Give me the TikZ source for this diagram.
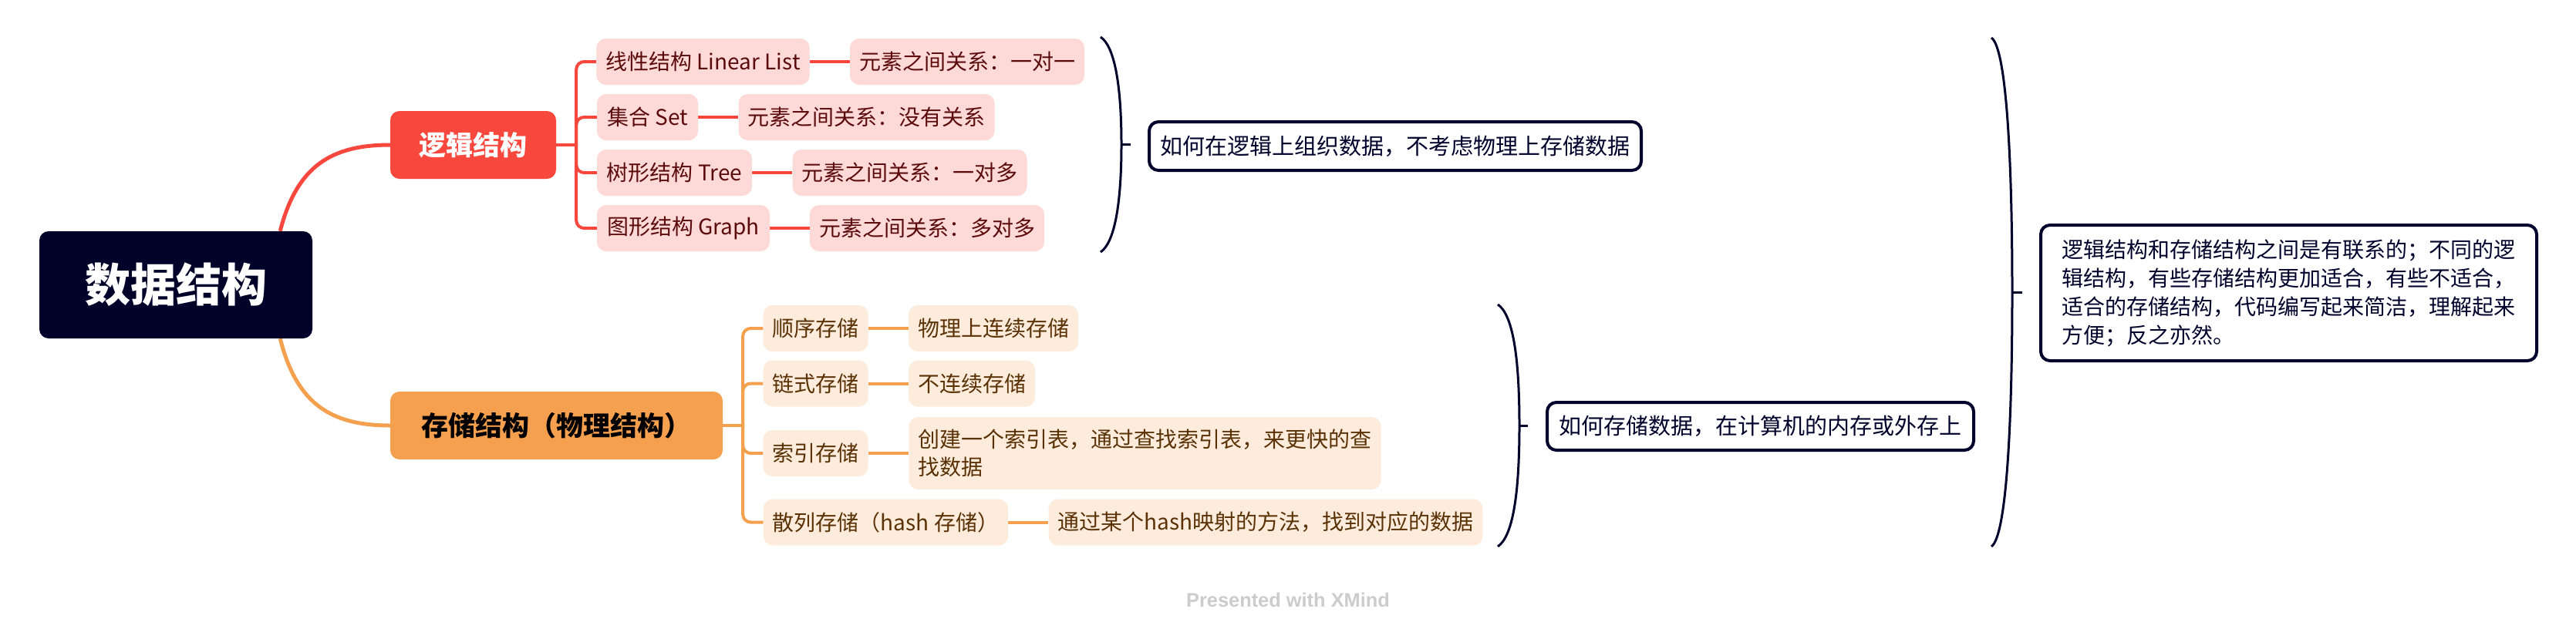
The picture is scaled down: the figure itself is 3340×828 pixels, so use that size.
\documentclass[tikz,border=0pt]{standalone}
\usepackage{fontspec}
\setmainfont{Noto Sans CJK SC}
\newfontfamily\wmfont{Liberation Sans}
\usetikzlibrary{calc,backgrounds}
\definecolor{rootbg}{HTML}{000229}
\definecolor{redmain}{HTML}{F8473D}
\definecolor{redlight}{HTML}{FDD9D8}
\definecolor{redtext}{HTML}{5C0B0B}
\definecolor{orgmain}{HTML}{F5A04E}
\definecolor{orglight}{HTML}{FDEBDC}
\definecolor{orgtext}{HTML}{5A3206}
\definecolor{navy}{HTML}{00022B}
\definecolor{wmgray}{HTML}{CCCCCC}
\tikzset{
  rootbox/.style={fill=rootbg, text=white, rounded corners=12pt, inner sep=0pt,
    minimum width=354pt, minimum height=139pt, font=\fontsize{59}{70}\selectfont\bfseries},
  mainbox/.style={rounded corners=12pt, inner sep=0pt, minimum height=88pt,
    font=\fontsize{35}{42}\selectfont\bfseries},
  redbox/.style={fill=redlight, text=redtext, rounded corners=12pt, inner xsep=12pt, inner ysep=0pt,
    minimum height=60pt, font=\fontsize{28}{36}\selectfont},
  orgbox/.style={fill=orglight, text=orgtext, rounded corners=12pt, inner xsep=12pt, inner ysep=0pt,
    minimum height=60pt, font=\fontsize{28}{36}\selectfont},
  sumbox/.style={draw=navy, line width=4pt, fill=white, text=navy, rounded corners=12pt,
    inner sep=0pt, font=\fontsize{29}{36}\selectfont},
  redline/.style={draw=redmain, line width=4pt},
  orgline/.style={draw=orgmain, line width=4pt},
  braceline/.style={draw=navy, line width=3pt},
}
\begin{document}
\begin{tikzpicture}[x=1pt,y=-1pt]
\useasboundingbox (0,0) rectangle (3340,828);
% root and main branches
\node[rootbox] (root) at (228,369.5) {数据结构};
\node[mainbox, fill=redmain, text=white, minimum width=215pt] (lg) at (613.5,188) {逻辑结构};
\node[mainbox, fill=orgmain, text=black, minimum width=431pt] (st) at (721.5,552) {存储结构（物理结构）};
% logical children
\node[redbox, minimum width=275pt] (c1) at (911.5,80) {线性结构 Linear List};
\node[redbox, minimum width=131pt] (c2) at (839.5,152) {集合 Set};
\node[redbox, minimum width=201pt] (c3) at (874.5,224) {树形结构 Tree};
\node[redbox, minimum width=224pt] (c4) at (886,296) {图形结构 Graph};
\node[redbox, minimum width=302pt] (g1) at (1254,80) {元素之间关系：一对一};
\node[redbox, minimum width=331pt] (g2) at (1123.5,152) {元素之间关系：没有关系};
\node[redbox, minimum width=303pt] (g3) at (1179.5,224) {元素之间关系：一对多};
\node[redbox, minimum width=302pt] (g4) at (1202,296) {元素之间关系：多对多};
% storage children
\node[orgbox, minimum width=135pt] (o1) at (1057.5,426) {顺序存储};
\node[orgbox, minimum width=135pt] (o2) at (1057.5,497.5) {链式存储};
\node[orgbox, minimum width=135pt] (o3) at (1057.5,588) {索引存储};
\node[orgbox, minimum width=317pt] (o4) at (1148.5,677.5) {散列存储（hash 存储）};
\node[orgbox, minimum width=218pt] (p1) at (1288,426) {物理上连续存储};
\node[orgbox, minimum width=162pt] (p2) at (1260,497.5) {不连续存储};
\node[orgbox, minimum width=611pt, minimum height=94pt, align=left] (p3) at (1484.5,588) {创建一个索引表，通过查找索引表，来更快的查\\找数据};
\node[orgbox, minimum width=560pt] (p4) at (1641,677.5) {通过某个hash映射的方法，找到对应的数据};
% summaries
\node[sumbox, minimum width=638pt, minimum height=63pt] (s1) at (1809,189.5) {如何在逻辑上组织数据，不考虑物理上存储数据};
\node[sumbox, minimum width=553pt, minimum height=62pt] (s2) at (2282.5,553) {如何存储数据，在计算机的内存或外存上};
\node[sumbox, minimum width=643pt, minimum height=176pt, align=left, font=\fontsize{28}{37}\selectfont] (s3) at (2967.5,380) {逻辑结构和存储结构之间是有联系的；不同的逻\\辑结构，有些存储结构更加适合，有些不适合，\\适合的存储结构，代码编写起来简洁，理解起来\\方便；反之亦然。};
% watermark
\node[text=wmgray, font=\wmfont\fontsize{25.4}{30}\selectfont\bfseries] (wm) at (1670,778) {Presented with XMind};
% brace coordinates
\coordinate (b1t) at (1427,48);  \coordinate (b1b) at (1427,327);
\coordinate (b1m) at (1454,187.5); \coordinate (b1k) at (1466,187.5);
\coordinate (b2t) at (1942,395); \coordinate (b2b) at (1942,709);
\coordinate (b2m) at (1970,552); \coordinate (b2k) at (1981,552);
\coordinate (b3t) at (2582,49);  \coordinate (b3b) at (2582,709);
\coordinate (b3m) at (2609,379); \coordinate (b3k) at (2622,379);
\begin{scope}[on background layer]
\fill[white] (0,0) rectangle (3340,828);
% main curves
\draw[draw=redmain, line width=5pt] ([xshift=-42pt]root.north east) .. controls (385,215) and (430,188) .. (lg.west);
\draw[draw=orgmain, line width=5pt] ([xshift=-42pt]root.south east) .. controls (385,525) and (430,552) .. (st.west);
% logical tree
\coordinate (lj) at ($(lg.east)+(26,0)$);
\draw[redline] (lg.east) -- (lj);
\foreach \c in {c1,c2,c3,c4} \draw[redline, rounded corners=10pt] (\c.west) -| (lj);
\draw[redline] (c1.east) -- (g1.west);
\draw[redline] (c2.east) -- (g2.west);
\draw[redline] (c3.east) -- (g3.west);
\draw[redline] (c4.east) -- (g4.west);
% storage tree
\coordinate (sj) at ($(st.east)+(26,0)$);
\draw[orgline] (st.east) -- (sj);
\foreach \c in {o1,o2,o3,o4} \draw[orgline, rounded corners=10pt] (\c.west) -| (sj);
\draw[orgline] (o1.east) -- (p1.west);
\draw[orgline] (o2.east) -- (p2.west);
\draw[orgline] (o3.east) -- (p3.west);
\draw[orgline] (o4.east) -- (p4.west);
\end{scope}
% braces
\draw[braceline] (b1t) .. controls (1445,60) and (1454,110) .. (b1m) .. controls (1454,265) and (1445,315) .. (b1b);
\draw[braceline] (b1m) -- (b1k);
\draw[braceline] (b2t) .. controls (1961,408) and (1970,460) .. (b2m) .. controls (1970,644) and (1961,696) .. (b2b);
\draw[braceline] (b2m) -- (b2k);
\draw[braceline] (b3t) .. controls (2601,62) and (2609,200) .. (b3m) .. controls (2609,558) and (2601,696) .. (b3b);
\draw[braceline] (b3m) -- (b3k);
\end{tikzpicture}
\end{document}
